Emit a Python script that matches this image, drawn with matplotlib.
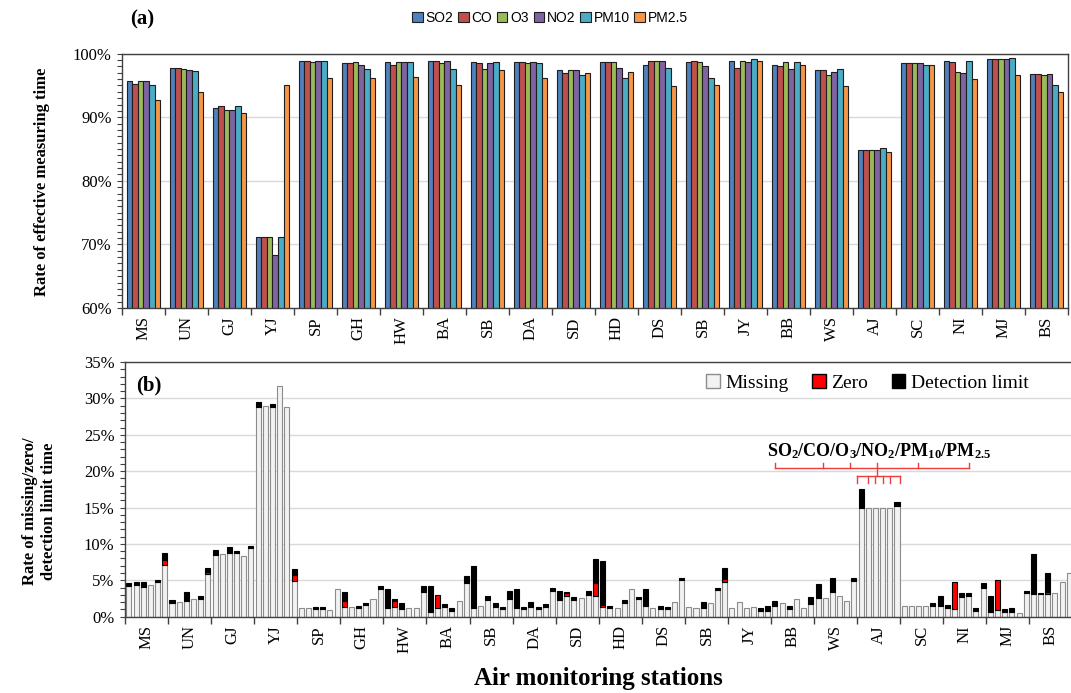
import numpy as np
import matplotlib.pyplot as plt
from matplotlib.patches import Patch
from matplotlib.ticker import MultipleLocator, PercentFormatter

plt.rcParams['font.family'] = 'Liberation Serif'
plt.rcParams['mathtext.fontset'] = 'custom'
plt.rcParams['mathtext.rm'] = 'Liberation Serif:bold'
plt.rcParams['mathtext.it'] = 'Liberation Serif:bold'
plt.rcParams['mathtext.bf'] = 'Liberation Serif:bold'

stations = ['MS', 'UN', 'GJ', 'YJ', 'SP', 'GH', 'HW', 'BA', 'SB', 'DA', 'SD',
            'HD', 'DS', 'SB', 'JY', 'BB', 'WS', 'AJ', 'SC', 'NI', 'MJ', 'BS']
pollutants = ['SO2', 'CO', 'O3', 'NO2', 'PM10', 'PM2.5']

# (a) rate of effective measuring time (%), one list per pollutant
so2 = [95.7, 97.8, 91.5, 71.2, 98.9, 98.5, 98.7, 98.9, 98.7, 98.7, 97.4,
       98.7, 98.3, 98.7, 98.9, 98.3, 97.4, 84.9, 98.5, 98.9, 99.1, 96.8]
co = [95.3, 97.8, 91.7, 71.2, 98.9, 98.5, 98.3, 98.9, 98.5, 98.7, 97.0,
      98.7, 98.9, 98.9, 97.8, 98.1, 97.4, 84.9, 98.5, 98.7, 99.1, 96.8]
o3 = [95.7, 97.6, 91.2, 71.2, 98.7, 98.7, 98.7, 98.5, 97.6, 98.5, 97.4,
      98.7, 98.9, 98.7, 98.9, 98.7, 96.6, 84.9, 98.5, 97.2, 99.1, 96.6]
no2 = [95.7, 97.5, 91.2, 68.3, 98.9, 98.3, 98.7, 98.9, 98.5, 98.7, 97.4,
       97.8, 98.9, 98.1, 98.7, 97.6, 97.2, 84.9, 98.5, 97.0, 99.1, 96.8]
pm10 = [95.1, 97.3, 91.7, 71.2, 98.9, 97.6, 98.7, 97.6, 98.7, 98.5, 96.6,
        96.2, 97.8, 96.2, 99.1, 98.7, 97.6, 85.1, 98.3, 98.9, 99.3, 95.1]
pm25 = [92.7, 94.0, 90.6, 95.1, 96.2, 96.2, 96.4, 95.1, 97.4, 96.2, 97.0,
        97.2, 94.9, 95.1, 98.9, 98.3, 94.9, 84.6, 98.3, 96.0, 96.6, 94.0]

# (b) missing / zero / detection limit time (%), rows = station,
# cols = SO2, CO, O3, NO2, PM10, PM2.5
missing = [[4.2, 4.4, 4.05, 4.4, 4.8, 7.1],
           [1.9, 2.0, 2.2, 2.5, 2.5, 5.8],
           [8.5, 8.6, 8.7, 8.7, 8.4, 9.4],
           [28.8, 29.0, 28.8, 31.7, 28.8, 4.9],
           [1.15, 1.15, 1.05, 1.05, 0.92, 3.76],
           [1.3, 1.28, 1.24, 1.56, 2.48, 3.8],
           [1.24, 1.4, 1.0, 1.15, 1.15, 3.4],
           [0.7, 1.16, 1.38, 0.85, 2.2, 4.7],
           [1.15, 1.5, 2.3, 1.38, 1.0, 2.5],
           [1.15, 1.0, 1.38, 1.0, 1.38, 3.58],
           [2.3, 2.9, 2.3, 2.57, 3.0, 2.87],
           [1.3, 1.2, 1.25, 1.9, 3.76, 2.5],
           [1.5, 1.15, 1.05, 1.05, 2.06, 5.05],
           [1.28, 1.15, 1.2, 1.83, 3.67, 4.8],
           [1.15, 2.06, 1.15, 1.28, 0.83, 0.83],
           [1.5, 1.83, 1.0, 2.48, 1.15, 1.7],
           [2.52, 2.57, 3.35, 2.8, 2.2, 4.95],
           [15.0, 15.0, 15.0, 15.0, 15.0, 15.2],
           [1.47, 1.47, 1.47, 1.47, 1.47, 1.5],
           [1.15, 1.0, 2.66, 2.84, 0.83, 4.0],
           [0.69, 0.9, 0.69, 0.69, 0.55, 3.2],
           [3.07, 3.07, 3.07, 3.2, 4.8, 5.96]]
zero = [[0, 0, 0, 0, 0, 0.65],
        [0, 0, 0, 0, 0, 0.3],
        [0, 0, 0, 0, 0, 0],
        [0, 0, 0, 0, 0, 0.8],
        [0, 0, 0, 0, 0, 0],
        [0.8, 0, 0, 0, 0, 0],
        [0, 0.75, 0, 0, 0, 0],
        [0, 1.76, 0, 0, 0, 0],
        [0, 0, 0, 0, 0, 0],
        [0, 0, 0, 0, 0, 0],
        [0, 0.3, 0, 0, 0, 1.8],
        [0.25, 0, 0, 0, 0, 0],
        [0, 0, 0, 0, 0, 0],
        [0, 0, 0, 0, 0, 0.32],
        [0, 0, 0, 0, 0, 0],
        [0, 0, 0, 0, 0, 0.2],
        [0, 0, 0, 0, 0, 0],
        [0, 0, 0, 0, 0, 0],
        [0, 0, 0, 0, 0, 0],
        [0, 3.8, 0, 0, 0, 0],
        [0, 4.15, 0, 0, 0, 0],
        [0, 0, 0.37, 0, 0, 0]]
detect = [[0.37, 0.36, 0.7, 0, 0.3, 1.05],
          [0.4, 0, 1.2, 0, 0.3, 0.6],
          [0.7, 0, 0.9, 0.3, 0, 0.3],
          [0.7, 0, 0.4, 0, 0, 0.9],
          [0, 0, 0.28, 0.28, 0, 0],
          [1.3, 0, 0.26, 0.34, 0, 0.37],
          [2.56, 0.35, 0.9, 0, 0, 0.77],
          [3.5, 0, 0.3, 0.33, 0, 0.9],
          [5.75, 0, 0.55, 0.45, 0.33, 1.1],
          [2.65, 0.33, 0.68, 0.33, 0.32, 0.36],
          [1.3, 0.2, 0.36, 0, 0.6, 3.2],
          [6.1, 0.27, 0, 0.35, 0, 0.25],
          [2.3, 0, 0.45, 0.28, 0, 0.25],
          [0, 0, 0.86, 0, 0.27, 1.6],
          [0, 0, 0, 0, 0.32, 0.7],
          [0.7, 0, 0.47, 0, 0, 0.75],
          [1.98, 0, 1.95, 0, 0, 0.35],
          [2.6, 0, 0, 0, 0, 0.5],
          [0, 0, 0, 0, 0.36, 1.3],
          [0.45, 0, 0.54, 0.36, 0.32, 0.7],
          [2.1, 0, 0.31, 0.46, 0, 0.3],
          [5.5, 0.23, 2.5, 0, 0, 0]]

colors = ['#4F81BD', '#C0504D', '#9BBB59', '#8064A2', '#4BACC6', '#F79646']
spine_col = '#404040'
grid_col = '#D9D9D9'

fig = plt.figure(figsize=(10.71, 6.93), dpi=100)
idx = np.arange(len(stations))


def style_axes(ax):
    for s in ax.spines.values():
        s.set_color(spine_col)
        s.set_linewidth(1.0)
    ax.set_axisbelow(True)
    ax.yaxis.grid(True, color=grid_col, linewidth=1.0)
    ax.set_xlim(0, len(stations))
    ax.set_xticks(idx + 0.5)
    ax.set_xticklabels(stations, rotation=90, fontsize=12)
    ax.tick_params(axis='x', which='major', length=0, pad=6)
    ax.set_xticks(np.arange(len(stations) + 1), minor=True)
    ax.tick_params(axis='x', which='minor', length=5, width=1, color=spine_col)
    ax.tick_params(axis='y', which='both', labelsize=12, length=3.5,
                   width=0.8, color=spine_col, pad=4)
    ax.yaxis.set_major_formatter(PercentFormatter(100, decimals=0))


# ---- (a) effective measuring time
ax1 = fig.add_axes([0.1139, 0.5556, 0.8833, 0.3669])
bw = 0.13
off = (1 - 6 * bw) / 2
for j, vals in enumerate([so2, co, o3, no2, pm10, pm25]):
    ax1.bar(idx + off + (j + 0.5) * bw, vals, bw, color=colors[j],
            edgecolor='#1E1E1E', linewidth=0.8, label=pollutants[j], zorder=2)
ax1.set_ylim(60, 100)
ax1.yaxis.set_major_locator(MultipleLocator(10))
ax1.yaxis.set_minor_locator(MultipleLocator(1))
style_axes(ax1)
fig.text(0.0392, 0.737, 'Rate of effective measuring time', fontsize=12,
         fontweight='bold', rotation=90, ha='center', va='center')
fig.text(0.1326, 0.9726, '(a)', fontsize=15, fontweight='bold',
         ha='center', va='center')
fig.legend(loc='center', bbox_to_anchor=(0.5135, 0.974), ncol=6,
           frameon=False, prop={'family': 'Liberation Sans', 'size': 10},
           handlelength=0.75, handleheight=0.75, handletextpad=0.2,
           columnspacing=0.35)

# ---- (b) missing / zero / detection limit
ax2 = fig.add_axes([0.1167, 0.1101, 0.8847, 0.3675])
miss = np.array(missing)
zer = np.array(zero)
det = np.array(detect)
bw2 = 0.7 / 6
for j in range(6):
    x = idx + (j + 0.55) / 6
    ax2.bar(x, miss[:, j], bw2, color='#F2F2F2', edgecolor='#8C8C8C',
            linewidth=0.8, zorder=2)
    nz = zer[:, j] > 0
    ax2.bar(x[nz], zer[nz, j], bw2, bottom=miss[nz, j], color='#FF0000',
            edgecolor='black', linewidth=0.8, zorder=2)
    nd = det[:, j] > 0
    ax2.bar(x[nd], det[nd, j], bw2, bottom=miss[nd, j] + zer[nd, j],
            color='black', edgecolor='black', linewidth=0.8, zorder=2)
ax2.set_ylim(0, 35)
ax2.yaxis.set_major_locator(MultipleLocator(5))
ax2.yaxis.set_minor_locator(MultipleLocator(1))
style_axes(ax2)
ax2.set_xlabel('Air monitoring stations', fontsize=18, fontweight='bold',
               labelpad=10)
fig.text(0.037, 0.262, 'Rate of missing/zero/\ndetection limit time',
         fontsize=12, fontweight='bold', rotation=90, ha='center',
         va='center', multialignment='center')
fig.text(0.139, 0.4444, '(b)', fontsize=15, fontweight='bold',
         ha='center', va='center')

handles = [Patch(facecolor='#F2F2F2', edgecolor='#8C8C8C'),
           Patch(facecolor='#FF0000', edgecolor='black'),
           Patch(facecolor='black', edgecolor='black')]
ax2.legend(handles, ['Missing', 'Zero', 'Detection limit'], loc='center',
           bbox_to_anchor=(0.81, 0.447), bbox_transform=fig.transFigure,
           ncol=3, frameon=False, fontsize=14, handlelength=0.7,
           handleheight=0.7, handletextpad=0.3, columnspacing=1.2)

# bracket marking the six pollutants of one station (AJ)
br_col = '#EE3B3B'
big_ticks = [15.09, 16.21, 16.83, 18.42, 19.6]
small_ticks = [17.0, 17.26, 17.42, 17.59, 17.76, 18.0]
stem = 17.47
ax2.plot([big_ticks[0], big_ticks[-1]], [20.5, 20.5], color=br_col, lw=1)
for t in big_ticks:
    ax2.plot([t, t], [20.5, 21.1], color=br_col, lw=1)
ax2.plot([stem, stem], [19.4, 21.1], color=br_col, lw=1)
ax2.plot([small_ticks[0], small_ticks[-1]], [19.4, 19.4], color=br_col, lw=1)
for t in small_ticks:
    ax2.plot([t, t], [18.4, 19.4], color=br_col, lw=1)
ax2.text(17.5, 22.8, 'SO$_2$/CO/O$_3$/NO$_2$/PM$_{10}$/PM$_{2.5}$',
         fontsize=13, fontweight='bold', ha='center', va='center')

fig.savefig('out.png', dpi=100)
